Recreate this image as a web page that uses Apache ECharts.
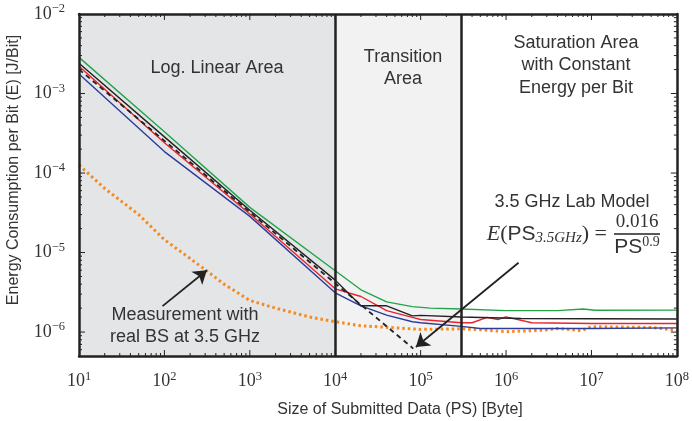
<!DOCTYPE html>
<html><head><meta charset="utf-8">
<script src="https://cdn.jsdelivr.net/npm/echarts@6/dist/echarts.min.js"></script>
<style>html,body{margin:0;padding:0;background:#fff}#c{width:692px;height:421px}</style>
</head><body><div id="c"></div>
<script>
// ---- tick values ----
const xDecades = [1e1, 1e2, 1e3, 1e4, 1e5, 1e6, 1e7, 1e8];
const yDecades = [1e-6, 1e-5, 1e-4, 1e-3, 1e-2];
const xMin = 10, xMax = 1e8, yMin = 5e-7, yMax = 1e-2;

// ---- region boundaries ----
const linearEnd = 1e4;
const transitionEnd = 3e5;

// ---- series values [PS (Byte), E (J/Bit)] ----
const greenLine = [[10,2.85e-3],[100,3.3e-4],[1000,3.7e-5],[1e4,5.9e-6],[2e4,3.4e-6],[4e4,2.4e-6],[8e4,2.09e-6],[1.3e5,2.0e-6],[3e5,1.95e-6],[1e6,1.86e-6],[4e6,1.86e-6],[8e6,1.95e-6],[1.1e7,1.88e-6],[1e8,1.89e-6]];
const blackLine = [[10,2.4e-3],[100,2.85e-4],[1000,3.4e-5],[1e4,4.5e-6],[2e4,2.14e-6],[4e4,2.14e-6],[8e4,1.6e-6],[1e5,1.62e-6],[3e5,1.55e-6],[1.5e6,1.48e-6],[1e8,1.46e-6]];
const redLine = [[10,2.2e-3],[100,2.4e-4],[1000,3.05e-5],[1e4,3.5e-6],[2e4,2.8e-6],[4e4,1.86e-6],[8e4,1.53e-6],[1e5,1.44e-6],[3e5,1.31e-6],[4e5,1.31e-6],[6e5,1.53e-6],[8e5,1.44e-6],[1e6,1.55e-6],[2e6,1.31e-6],[1e7,1.28e-6],[1e8,1.28e-6]];
const blueLine = [[10,1.76e-3],[100,1.86e-4],[1000,2.85e-5],[1e4,3.12e-6],[2e4,2.14e-6],[4e4,1.63e-6],[8e4,1.35e-6],[1e5,1.31e-6],[3e5,1.18e-6],[5e5,1.11e-6],[1e7,1.11e-6],[1e8,1.13e-6]];
const measuredBS = [[10,1.26e-4],[20,6.4e-5],[50,3.0e-5],[100,1.45e-5],[200,8.4e-6],[300,6.1e-6],[500,4.0e-6],[1000,2.5e-6],[2000,2.0e-6],[5000,1.55e-6],[1e4,1.35e-6],[2e4,1.2e-6],[5e4,1.13e-6],[1e5,1.08e-6],[3e5,1.1e-6],[5.7e5,1.06e-6],[1e6,1.01e-6],[2.9e6,1.06e-6],[4e6,1.11e-6],[7.6e6,1.04e-6],[1e7,1.17e-6],[5e7,1.14e-6],[1e8,1.06e-6]];
const labModel = [[10,2.01e-3],[8.2e4,6.2e-7]];

// ---- annotation arrows [from, to] ----
const modelArrow = [[1.4e6,7.45e-6],[8.8e4,6.5e-7]];
const measArrow = [[95,2.12e-6],[314,6.0e-6]];

const minorOf = (decs, lo, hi) => {
  const out = [];
  decs.concat([decs[0]/10]).forEach(d => { for (let k=2;k<=9;k++){ const v=k*d; if (v>lo*1.0001 && v<hi*0.9999) out.push(v);} });
  return out;
};
const xMinor = minorOf(xDecades, xMin, xMax);
const yMinor = minorOf(yDecades, yMin, yMax);
const MAJOR_LEN = 6, MINOR_LEN = 3;

const INK = '#222';
const TXT = '#333';
const serif = 'Liberation Serif';
const sans = 'Liberation Sans';

const powLabel = v => {
  const e = Math.round(Math.log10(v));
  return '{b|10}{s|' + (e < 0 ? '\u2212' : '') + Math.abs(e) + '}';
};
const powRich = {
  b: {fontFamily: serif, fontSize: 18, color: TXT},
  s: {fontFamily: serif, fontSize: 12.5, color: TXT, padding: [0,0,10,0]}
};

function xAx(pos, labels) {
  return {
    type: 'log', logBase: 10, min: xMin, max: xMax, position: pos, z: 10,
    axisLine: {show: true, lineStyle: {color: INK, width: 2.5}},
    axisTick: {show: false},
    axisLabel: labels ? {show: true, customValues: xDecades, formatter: powLabel, rich: powRich, margin: 14} : {show: false},
    splitLine: {show: false}, minorTick: {show: false}
  };
}
function yAx(pos, labels) {
  return {
    type: 'log', logBase: 10, min: yMin, max: yMax, position: pos, z: 10,
    axisLine: {show: true, lineStyle: {color: INK, width: 2.5}},
    axisTick: {show: false},
    axisLabel: labels ? {show: true, customValues: yDecades, formatter: powLabel, rich: powRich, margin: 14} : {show: false},
    splitLine: {show: false}, minorTick: {show: false}
  };
}
// hidden linear axes in log10 units over the same grid, used only to place tick marks
const xLogAxis = {type: 'value', show: false, min: Math.log10(xMin), max: Math.log10(xMax), position: 'bottom'};
const yLogAxis = {type: 'value', show: false, min: Math.log10(yMin), max: Math.log10(yMax), position: 'left'};

function lineSeries(name, data, color, extra) {
  return Object.assign({
    name, type: 'line', data, xAxisIndex: 0, yAxisIndex: 0,
    showSymbol: false, symbol: 'none', smooth: false, silent: true,
    lineStyle: {color, width: 1.4}, z: 3
  }, extra || {});
}

// tick items: [log10 x, log10 y, dx, dy] (inward direction and length in px)
const lxMin = Math.log10(xMin), lxMax = Math.log10(xMax), lyMin = Math.log10(yMin), lyMax = Math.log10(yMax);
const tickItems = [];
const addX = (v, len) => {
  tickItems.push([Math.log10(v), lyMin, 0, -len]);
  tickItems.push([Math.log10(v), lyMax, 0, len]);
};
const addY = (v, len) => {
  tickItems.push([lxMin, Math.log10(v), len, 0]);
  tickItems.push([lxMax, Math.log10(v), -len, 0]);
};
xDecades.slice(1, -1).forEach(v => addX(v, MAJOR_LEN));
xMinor.forEach(v => addX(v, MINOR_LEN));
yDecades.slice(0, -1).forEach(v => addY(v, MAJOR_LEN));
yMinor.forEach(v => addY(v, MINOR_LEN));

const G = (o) => Object.assign({z: 100, silent: true}, o);

const chart = echarts.init(document.getElementById('c'), null, {renderer: 'canvas'});
chart.setOption({
  animation: false,
  backgroundColor: '#fff',
  grid: {left: 79, top: 14, right: 13, bottom: 65, show: false},
  xAxis: [xAx('bottom', true), xAx('top', false), xLogAxis],
  yAxis: [yAx('left', true), yAx('right', false), yLogAxis],
  series: [
    lineSeries('regions', [], INK, {
      z: 1,
      markArea: {silent: true, data: [
        [{xAxis: xMin, itemStyle: {color: '#e4e5e7'}}, {xAxis: linearEnd}],
        [{xAxis: linearEnd, itemStyle: {color: '#f2f2f2'}}, {xAxis: transitionEnd}]
      ]},
      markLine: {silent: true, symbol: ['none','none'], label: {show: false},
        lineStyle: {color: INK, width: 2.5, type: 'solid'},
        data: [{xAxis: linearEnd}, {xAxis: transitionEnd}]}
    }),
    {
      name: 'ticks', type: 'custom', xAxisIndex: 2, yAxisIndex: 2, data: tickItems,
      silent: true, z: 8, clip: false, encode: {x: 0, y: 1},
      renderItem: function (params, api) {
        const p = api.coord([api.value(0), api.value(1)]);
        return {type: 'line', shape: {x1: p[0], y1: p[1], x2: p[0] + api.value(2), y2: p[1] + api.value(3)},
          style: {stroke: INK, lineWidth: 1}};
      }
    },
    lineSeries('Measurement', measuredBS, '#f5891f', {lineStyle: {color: '#f5891f', width: 3, type: [2.5, 3]}}),
    lineSeries('Blue', blueLine, '#2b3c9c'),
    lineSeries('Red', redLine, '#e8232b'),
    lineSeries('Black', blackLine, '#222'),
    lineSeries('Green', greenLine, '#20a54a'),
    lineSeries('Model', labModel, '#222', {lineStyle: {color: '#222', width: 1.8, type: [5, 4]},
      markLine: {silent: true, symbol: ['none', 'arrow'], symbolSize: 13, label: {show: false},
        lineStyle: {color: INK, width: 1.8, type: 'solid'},
        data: [
          [{coord: modelArrow[0]}, {coord: modelArrow[1]}],
          [{coord: measArrow[0]}, {coord: measArrow[1]}]
        ]}})
  ],
  graphic: {elements: [
    G({type: 'text', x: 217, y: 68, style: {text: 'Log. Linear Area', align: 'center', verticalAlign: 'middle', fontFamily: sans, fontSize: 18, fill: TXT}}),
    G({type: 'text', x: 403, y: 68, style: {text: 'Transition\nArea', align: 'center', verticalAlign: 'middle', lineHeight: 22, fontFamily: sans, fontSize: 18, fill: TXT}}),
    G({type: 'text', x: 576, y: 65.5, style: {text: 'Saturation Area\nwith Constant\nEnergy per Bit', align: 'center', verticalAlign: 'middle', lineHeight: 22.5, fontFamily: sans, fontSize: 18, fill: TXT}}),
    G({type: 'text', x: 572, y: 202, style: {text: '3.5 GHz Lab Model', align: 'center', verticalAlign: 'middle', fontFamily: sans, fontSize: 18, fill: TXT}}),
    G({type: 'text', x: 607, y: 234, style: {
      text: '{it|E}{p|(}{ps|PS}{sub|3.5GHz}{p|)}{eq| =}', align: 'right', verticalAlign: 'middle', fill: TXT,
      rich: {
        it: {fontFamily: serif, fontStyle: 'italic', fontSize: 22, fill: TXT},
        p: {fontFamily: serif, fontSize: 22, fill: TXT},
        eq: {fontFamily: serif, fontSize: 22, fill: TXT},
        ps: {fontFamily: sans, fontSize: 21, fill: TXT},
        sub: {fontFamily: serif, fontStyle: 'italic', fontSize: 15, fill: TXT, padding: [9,0,0,0]}
      }}}),
    G({type: 'text', x: 637, y: 222, style: {text: '0.016', align: 'center', verticalAlign: 'middle', fontFamily: serif, fontSize: 19, fill: TXT}}),
    G({type: 'line', shape: {x1: 614, y1: 234, x2: 660, y2: 234}, style: {stroke: INK, lineWidth: 1.6}}),
    G({type: 'text', x: 637, y: 247, style: {
      text: '{ps|PS}{sup|0.9}', align: 'center', verticalAlign: 'middle', fill: TXT,
      rich: {
        ps: {fontFamily: sans, fontSize: 21, fill: TXT},
        sup: {fontFamily: serif, fontSize: 14, fill: TXT, padding: [0,0,10,0]}
      }}}),
    G({type: 'text', x: 185, y: 326, style: {text: 'Measurement with\nreal BS at 3.5 GHz', align: 'center', verticalAlign: 'middle', lineHeight: 22, fontFamily: sans, fontSize: 18, fill: TXT}}),
    G({type: 'text', x: 400, y: 410, style: {text: 'Size of Submitted Data (PS) [Byte]', align: 'center', verticalAlign: 'middle', fontFamily: sans, fontSize: 16, fill: TXT}}),
    G({type: 'text', x: 14, y: 170, rotation: Math.PI / 2, style: {text: 'Energy Consumption per Bit (E) [J/Bit]', align: 'center', verticalAlign: 'middle', fontFamily: sans, fontSize: 16, fill: TXT}})
  ]}
});
</script></body></html>
